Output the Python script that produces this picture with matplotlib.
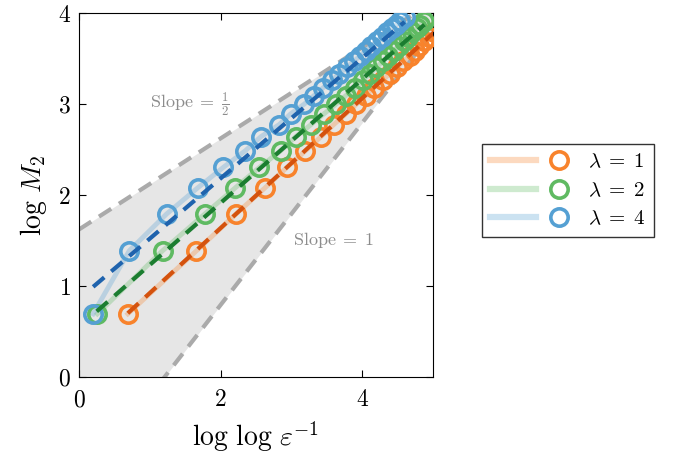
import numpy as np
import matplotlib
matplotlib.use("Agg")
import matplotlib.pyplot as plt
from matplotlib.ticker import FuncFormatter
from matplotlib.lines import Line2D
from matplotlib.legend_handler import HandlerTuple

plt.rcParams['mathtext.fontset'] = 'cm'
plt.rcParams['font.family'] = ['DejaVu Serif']

# log M_2 values (M_2 = 2, 4, 6, ...)
logm = [0.693, 1.386, 1.792, 2.079, 2.303, 2.485, 2.639, 2.773, 2.890, 2.996,
        3.091, 3.178, 3.258, 3.332, 3.401, 3.466, 3.526, 3.584, 3.638, 3.689,
        3.738, 3.784, 3.829, 3.871, 3.912, 3.951]

# log log eps^-1 for each lambda
x_l1 = [0.69, 1.66, 2.22, 2.63, 2.94, 3.20, 3.42, 3.60, 3.77, 3.92, 4.05,
        4.17, 4.29, 4.39, 4.49, 4.58, 4.67, 4.75, 4.81, 4.88, 4.95, 5.01]
x_l2 = [0.26, 1.18, 1.78, 2.21, 2.55, 2.85, 3.06, 3.28, 3.46, 3.63, 3.77,
        3.90, 4.01, 4.11, 4.20, 4.29, 4.37, 4.45, 4.52, 4.59, 4.65, 4.71,
        4.77, 4.82, 4.88]
x_l4 = [0.20, 0.71, 1.24, 1.68, 2.04, 2.35, 2.57, 2.83, 2.99, 3.18, 3.32,
        3.45, 3.57, 3.68, 3.78, 3.88, 3.97, 4.05, 4.13, 4.21, 4.28, 4.35,
        4.42, 4.48, 4.54, 4.60]

labels = [r'$\lambda\;=\;1$', r'$\lambda\;=\;2$', r'$\lambda\;=\;4$']

# fitted lines (endpoints)
fit_x = [[0.69, 5.05], [0.25, 4.88], [0.20, 4.60]]
fit_y = [[0.70, 3.81], [0.72, 3.87], [0.99, 3.90]]

# reference slopes: y = b + s*x
ref_slope = [0.5, 1.0]
ref_icpt = [1.62, -1.21]

colors = ['#f8832c', '#5fba62', '#55a0d3']
fit_colors = ['#d4520e', '#1b7d30', '#1f63ad']

fig = plt.figure(figsize=(6.78, 4.58), dpi=100)
ax = fig.add_axes([0.1165, 0.177, 0.522, 0.795])

xs = np.linspace(0, 5.7, 300)
up = ref_icpt[0] + ref_slope[0] * xs
lo = np.maximum(0, ref_icpt[1] + ref_slope[1] * xs)
ax.fill_between(xs, lo, up, where=up >= lo, color='#e6e6e6', lw=0, zorder=1)
for s, b in zip(ref_slope, ref_icpt):
    ax.plot(xs, b + s * xs, color='#aaaaaa', lw=3, dashes=(3.5, 2.2), zorder=2)

series = [x_l1, x_l2, x_l4]
for xv, c in zip(series, colors):
    yv = logm[:len(xv)]
    ax.plot(xv, yv, color=c, alpha=0.3, lw=3.5, zorder=3)
    ax.plot(xv, yv, ls='none', marker='o', ms=12.5, mfc='none', mec=c, mew=2.6, zorder=4)

for fx, fy, c in zip(fit_x, fit_y, fit_colors):
    ax.plot(fx, fy, color=c, lw=3, dashes=(3.5, 2.2), zorder=5)

ax.text(1.0, 3.0, r'$\mathrm{Slope}\;=\;\frac{1}{2}$', color='#8c8c8c',
        fontsize=13, va='center')
ax.text(3.02, 1.5, r'$\mathrm{Slope}\;=\;1$', color='#8c8c8c',
        fontsize=13, va='center')

ax.set_xlim(0, 5)
ax.set_ylim(0, 4)
ax.set_xticks([0, 2, 4])
ax.set_yticks([0, 1, 2, 3, 4])
fmt = FuncFormatter(lambda v, p: f'${v:g}$')
ax.xaxis.set_major_formatter(fmt)
ax.yaxis.set_major_formatter(fmt)
ax.tick_params(labelsize=17, direction='in', top=True, right=True, length=5)
ax.tick_params(axis='x', pad=8)
ax.tick_params(axis='y', pad=6)
ax.set_xlabel(r'$\log\,\log\,\varepsilon^{-1}$', fontsize=20, labelpad=6)
ax.set_ylabel(r'$\log\,M_2$', fontsize=20, labelpad=6)

# legend handles: light line with a ring in the middle
leg_h = []
for c in colors:
    ln = Line2D([], [], color=c, alpha=0.3, lw=4.5)
    mk = Line2D([], [], ls='none', marker='o', ms=12.5, mfc='none', mec=c, mew=2.6)
    leg_h.append((ln, mk))
fig.legend(leg_h, labels, handler_map={tuple: HandlerTuple(ndivide=None, pad=0)},
           loc='upper left', bbox_to_anchor=(0.711, 0.685), fontsize=15,
           handlelength=4.4, fancybox=False, edgecolor='#333333', framealpha=1,
           borderpad=0.4, labelspacing=0.45, handletextpad=0.3, borderaxespad=0)

fig.savefig('out.png', dpi=100)
